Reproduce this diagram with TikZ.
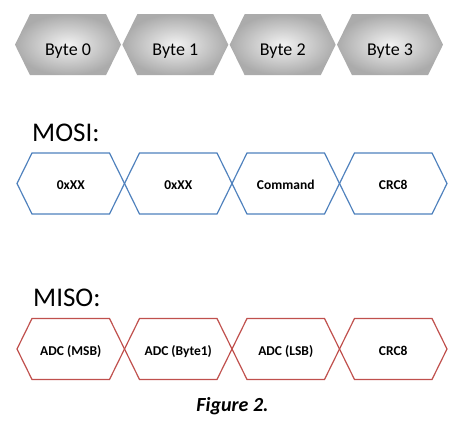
\documentclass[tikz,border=0pt]{standalone}
\usepackage{fontspec}
\setmainfont{Carlito}
\usepackage{tikz}
\definecolor{mosiblue}{HTML}{4F81BD}
\definecolor{misored}{HTML}{C0504D}
\def\hexa[#1](#2,#3)(#4){\path[#1] (#2,#3) -- ++(15,-30.5) -- ++(#4-30,0) -- ++(15,30.5) -- ++(-15,30.5) -- ++(30-#4,0) -- cycle;}

\begin{document}
\begin{tikzpicture}[x=1pt, y=-1pt,
		greybyte/.style={inner color=black!5, outer color=black!33},
		mosiline/.style={draw=mosiblue, line width=1.2pt},
		misoline/.style={draw=misored, line width=1.2pt},
		bytetext/.style={anchor=base, inner sep=0pt, font=\fontsize{18}{20}\selectfont},
		fieldtext/.style={anchor=base, inner sep=0pt, font=\fontsize{13.5}{15}\selectfont\bfseries},
		linetitle/.style={anchor=base west, inner sep=0pt, font=\fontsize{27}{30}\selectfont}]
			%%%%% START %%%%%
			\useasboundingbox (0, 0) rectangle (468, 427);
			
			\hexa[greybyte](15, 44.7)(106);
			\hexa[greybyte](122.3, 44.7)(106);
			\hexa[greybyte](229.7, 44.7)(106);
			\hexa[greybyte](337, 44.7)(106);
			\node[bytetext] (b0) at (68, 55.5) {Byte 0};
			\node[bytetext] (b1) at (175.3, 55.5) {Byte 1};
			\node[bytetext] (b2) at (282.7, 55.5) {Byte 2};
			\node[bytetext] (b3) at (390, 55.5) {Byte 3};
			
			\node[linetitle] (mosi) at (32, 141.5) {MOSI:};
			\hexa[mosiline](17, 183.5)(107.5);
			\hexa[mosiline](124.5, 183.5)(107.5);
			\hexa[mosiline](232, 183.5)(107.5);
			\hexa[mosiline](339.5, 183.5)(107.5);
			\node[fieldtext] (mosi0) at (70.75, 190) {0xXX};
			\node[fieldtext] (mosi1) at (178.25, 190) {0xXX};
			\node[fieldtext] (mosi2) at (285.75, 190) {Command};
			\node[fieldtext] (mosi3) at (393.25, 190) {CRC8};
			
			\node[linetitle] (miso) at (33, 307) {MISO:};
			\hexa[misoline](17, 349)(107.5);
			\hexa[misoline](124.5, 349)(107.5);
			\hexa[misoline](232, 349)(107.5);
			\hexa[misoline](339.5, 349)(107.5);
			\node[fieldtext] (miso0) at (70.75, 355.5) {ADC (MSB)};
			\node[fieldtext] (miso1) at (178.25, 355.5) {ADC (Byte1)};
			\node[fieldtext] (miso2) at (285.75, 355.5) {ADC (LSB)};
			\node[fieldtext] (miso3) at (393.25, 355.5) {CRC8};
			
			\node[anchor=base, inner sep=0pt, font=\fontsize{20}{22}\selectfont\bfseries\itshape] (caption) at (232.5, 411) {Figure 2.};
			%%%%% END %%%%%
\end{tikzpicture}
\end{document}
